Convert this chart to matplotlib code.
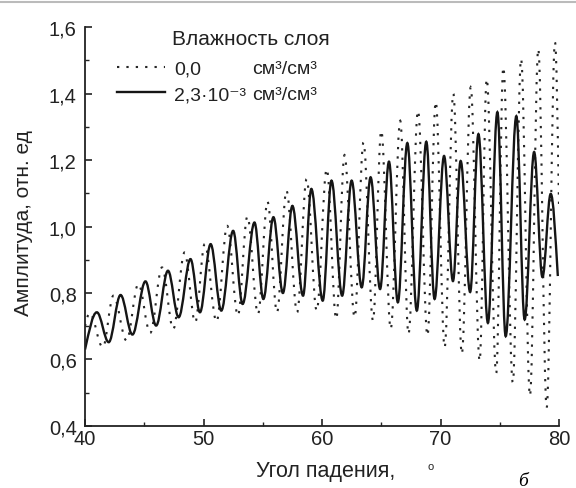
import matplotlib
matplotlib.use("Agg")
import matplotlib.pyplot as plt
from matplotlib.path import Path
from matplotlib.patches import PathPatch
from matplotlib.lines import Line2D
from matplotlib.ticker import MultipleLocator, FuncFormatter

plt.rcParams['font.family'] = ['Liberation Sans', 'DejaVu Sans']

# Angle of incidence (deg) and amplitude at the extrema of each curve
dry_x = [40.0, 40.4, 41.5, 42.4, 43.5, 44.5, 45.5, 46.5, 47.45, 48.4, 49.3, 50.1,
         51.1, 52.0, 52.9, 53.7, 54.6, 55.4, 56.2, 57.0, 57.9, 58.7, 59.55, 60.4,
         61.2, 61.9, 62.75, 63.5, 64.3, 65.0, 65.8, 66.6, 67.3, 68.1, 68.9, 69.6,
         70.35, 71.08, 71.8, 72.55, 73.3, 73.9, 74.7, 75.3, 76.1, 76.8, 77.55,
         78.25, 78.96, 79.66, 80.0]
dry_y = [0.70, 0.74, 0.637, 0.792, 0.657, 0.827, 0.68, 0.877, 0.692, 0.922, 0.712,
         0.947, 0.714, 1.002, 0.732, 1.03, 0.737, 1.075, 0.742, 1.108, 0.742, 1.143,
         0.747, 1.173, 0.722, 1.215, 0.727, 1.253, 0.717, 1.288, 0.692, 1.318,
         0.677, 1.348, 0.672, 1.375, 0.637, 1.40, 0.617, 1.419, 0.596, 1.444,
         0.559, 1.479, 0.531, 1.504, 0.491, 1.534, 0.456, 1.554, 1.06]

wet_x = [40.0, 41.0, 42.0, 43.0, 44.0, 45.1, 46.0, 47.0, 47.9, 48.9, 49.7, 50.6,
         51.5, 52.5, 53.3, 54.3, 55.05, 55.9, 56.7, 57.5, 58.4, 59.1, 60.06, 60.8,
         61.7, 62.5, 63.35, 64.1, 64.9, 65.65, 66.4, 67.2, 68.0, 68.8, 69.5, 70.3,
         71.05, 71.7, 72.5, 73.2, 74.0, 74.8, 75.5, 76.4, 77.1, 77.9, 78.6, 79.3,
         79.9]
wet_y = [0.63, 0.742, 0.652, 0.794, 0.675, 0.835, 0.702, 0.867, 0.727, 0.902,
         0.742, 0.947, 0.747, 0.987, 0.767, 1.012, 0.782, 1.028, 0.80, 1.062,
         0.792, 1.113, 0.777, 1.138, 0.792, 1.138, 0.817, 1.148, 0.812, 1.195,
         0.772, 1.251, 0.747, 1.255, 0.782, 1.212, 0.836, 1.197, 0.803, 1.278,
         0.71, 1.344, 0.67, 1.332, 0.72, 1.224, 0.848, 1.098, 0.851]

legend_title = "Влажность слоя"
labels = ["0,0", "2,3·10⁻³"]
unit = "см³/см³"
xlabel = "Угол падения,"
ylabel = "Амплитуда, отн. ед"


def smooth_path(xs, ys):
    """Smooth path through the extrema (horizontal tangent at each extremum)."""
    n = len(xs)
    verts = [(xs[0], ys[0])]
    codes = [Path.MOVETO]
    for i in range(1, n):
        dx = xs[i] - xs[i - 1]
        dy = ys[i] - ys[i - 1]
        k = 0.36
        if i - 1 == 0:
            c1 = (xs[i - 1] + k * dx, ys[i - 1] + 0.5 * dy)
        else:
            c1 = (xs[i - 1] + k * dx, ys[i - 1])
        if i == n - 1:
            c2 = (xs[i] - k * dx, ys[i] - 0.5 * dy)
        else:
            c2 = (xs[i] - k * dx, ys[i])
        verts += [c1, c2, (xs[i], ys[i])]
        codes += [Path.CURVE4] * 3
    return Path(verts, codes)


fig = plt.figure(figsize=(5.76, 4.89), dpi=100)
ax = fig.add_axes([0.1476, 0.1268, 0.8229, 0.8159])

txt = "#222222"
dot_style = dict(color="#262626", lw=1.5, linestyle=(0, (1.1, 3.4)))
solid_style = dict(color="#151515", lw=1.7, linestyle="-")

ax.add_patch(PathPatch(smooth_path(dry_x, dry_y), fill=False, capstyle="butt",
                       **dot_style))
ax.add_patch(PathPatch(smooth_path(wet_x, wet_y), fill=False, **solid_style))

ax.set_xlim(40, 80)
ax.set_ylim(0.4, 1.6)
ax.xaxis.set_major_locator(MultipleLocator(10))
ax.xaxis.set_minor_locator(MultipleLocator(5))
ax.yaxis.set_major_locator(MultipleLocator(0.2))
ax.yaxis.set_minor_locator(MultipleLocator(0.1))
ax.yaxis.set_major_formatter(FuncFormatter(lambda v, p: f"{v:.1f}".replace(".", ",")))
for s in ["top", "right"]:
    ax.spines[s].set_visible(False)
for s in ["left", "bottom"]:
    ax.spines[s].set_linewidth(1.3)
    ax.spines[s].set_color(txt)
ax.tick_params(which="major", direction="in", length=5, width=1.2, labelsize=14.5,
               colors=txt)
ax.tick_params(which="minor", direction="in", length=3, width=1.0, colors=txt)
ax.tick_params(axis="x", pad=2)
ax.tick_params(axis="y", pad=6)

ax.set_xlabel(xlabel, fontsize=15.5, color=txt)
ax.xaxis.set_label_coords(0.507, -0.085)
ax.text(0.722, -0.088, "o", transform=ax.transAxes, fontsize=8, color=txt,
        ha="left", va="top")
ax.set_ylabel(ylabel, fontsize=15, color=txt)
ax.yaxis.set_label_coords(-0.11, 0.51)

handles = [Line2D([], [], **dot_style), Line2D([], [], **solid_style)]
leg = ax.legend(handles, labels, loc="upper left",
                bbox_to_anchor=(0.0675, 0.918), frameon=False, fontsize=14,
                handlelength=2.45, handletextpad=0.5, labelspacing=0.42,
                borderaxespad=0.0, borderpad=0.0)
for t in leg.get_texts():
    t.set_color(txt)
ax.text(0.1835, 0.97, legend_title, transform=ax.transAxes, fontsize=15,
        color=txt, va="center")
ax.text(0.352, 0.895, unit, transform=ax.transAxes, fontsize=14, color=txt,
        va="center")
ax.text(0.352, 0.83, unit, transform=ax.transAxes, fontsize=14, color=txt,
        va="center")

fig.text(0.9, 0.006, "б", fontsize=14, style="italic", family="Liberation Serif",
         va="baseline")
fig.add_artist(Line2D([0, 1], [0.994, 0.994], transform=fig.transFigure,
                      color="#bbbbbb", lw=1.5))

fig.savefig("out.png", dpi=100)
